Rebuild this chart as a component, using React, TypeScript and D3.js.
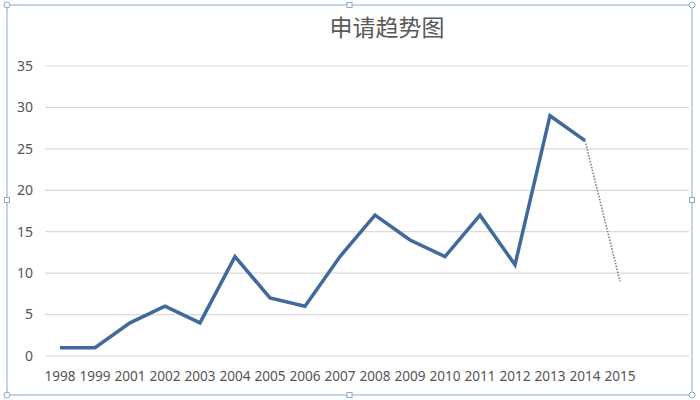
import React from "react";
import * as d3 from "d3";

// categories (note: 2000 is missing in the source chart)
const years = ["1998", "1999", "2001", "2002", "2003", "2004", "2005", "2006", "2007", "2008", "2009", "2010", "2011", "2012", "2013", "2014", "2015"];
const applications = [1, 1, 4, 6, 4, 12, 7, 6, 12, 17, 14, 12, 17, 11, 29, 26, 9];
const yTicks = [0, 5, 10, 15, 20, 25, 30, 35];
const title = "申请趋势图";

const W = 700;
const H = 400;

export default function App() {
  const x = d3.scalePoint<string>().domain(years).range([60, 620]);
  const y = d3.scaleLinear().domain([0, 35]).range([356, 66]);

  const line = d3.line<number>()
    .x((d, i) => x(years[i]) as number)
    .y((d) => y(d));

  // last segment (2014 -> 2015) is drawn dotted
  const solidPath = line(applications.slice(0, applications.length - 1)) || "";
  const n = applications.length;
  const dotted = `M${x(years[n - 2])},${y(applications[n - 2])}L${x(years[n - 1])},${y(applications[n - 1])}`;

  const box = { l: 7, t: 5, r: 692, b: 395 };
  const borderColor = "#8ea9cf";
  const cx = (box.l + box.r) / 2;
  const cy = (box.t + box.b) / 2;

  return (
    <svg width={W} height={H} style={{ position: "absolute", left: 0, top: 0, background: "#fff" }}
      fontFamily="'Noto Sans', 'Open Sans', sans-serif">
      <rect x={0} y={0} width={W} height={H} fill="#fff" />

      {/* title */}
      <text x={387} y={36} textAnchor="middle" fontSize={23} fill="#595959"
        fontFamily="'Noto Sans CJK SC', sans-serif">{title}</text>

      {/* gridlines + y labels */}
      {yTicks.map((t) => (
        <g key={t}>
          <line x1={45} x2={689} y1={y(t)} y2={y(t)} stroke="#d9d9d9" strokeWidth={1.2} />
          <text x={33} y={y(t)} dy="0.35em" textAnchor="end" fontSize={14} fill="#555">{t}</text>
        </g>
      ))}

      {/* x labels */}
      {years.map((yr) => (
        <text key={yr} x={x(yr)} y={381} textAnchor="middle" fontSize={13.6} fill="#555">{yr}</text>
      ))}

      {/* series */}
      <path d={solidPath} fill="none" stroke="#41699b" strokeWidth={3.5} strokeLinejoin="miter" />
      <path d={dotted} fill="none" stroke="#6a7f9c" strokeWidth={1.6} strokeDasharray="1.5 1.5" />

      {/* selection frame */}
      <rect x={box.l} y={box.t} width={box.r - box.l} height={box.b - box.t} fill="none" stroke={borderColor} strokeWidth={1} />
      {[[box.l, box.t], [box.r, box.t], [box.l, box.b], [box.r, box.b]].map(([px, py], i) => (
        <circle key={"c" + i} cx={px} cy={py} r={3} fill="#fff" stroke={borderColor} strokeWidth={1} />
      ))}
      {[[cx, box.t], [cx, box.b], [box.l, cy], [box.r, cy]].map(([px, py], i) => (
        <rect key={"s" + i} x={px - 2.5} y={py - 2.5} width={5} height={5} fill="#fff" stroke={borderColor} strokeWidth={1} />
      ))}
    </svg>
  );
}
